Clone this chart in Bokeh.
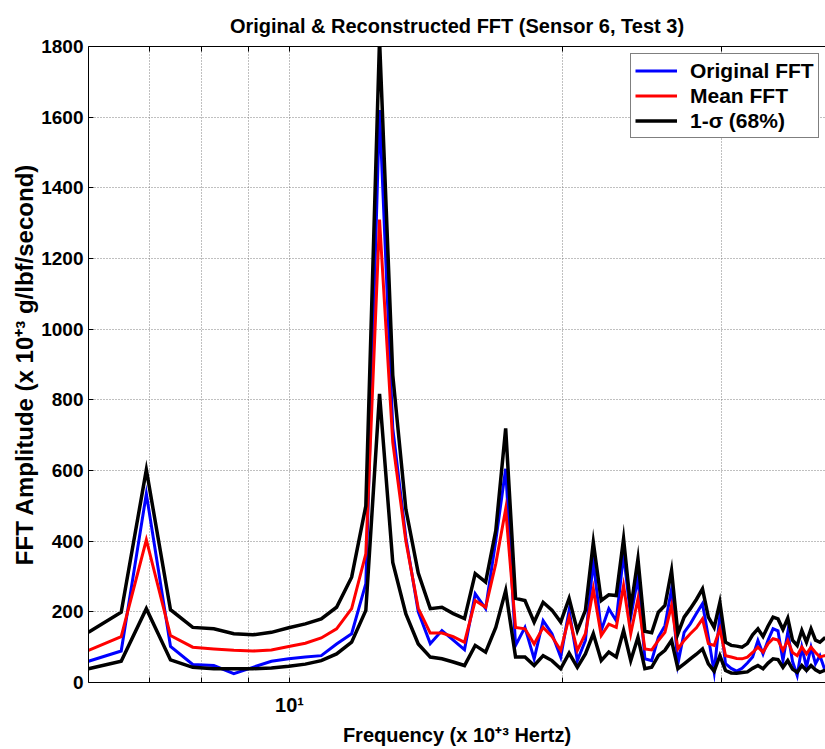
import math
from bokeh.plotting import figure
from bokeh.models import Range1d, FixedTicker, LogAxis, Legend, LegendItem
from bokeh.embed import file_html
from bokeh.resources import INLINE

# ---------------- data ----------------
freq = [6.00, 6.52, 6.95, 7.39, 7.82, 8.25, 8.68, 9.11, 9.55, 9.98,
        10.41, 10.84, 11.27, 11.71, 12.14, 12.57, 13.00, 13.44, 13.87, 14.30,
        14.73, 15.16, 15.60, 16.03, 16.46, 16.89, 17.32, 17.76, 18.19, 18.62,
        19.05, 19.48, 19.92, 20.35, 20.78, 21.21, 21.64, 22.08, 22.51, 22.94,
        23.37, 23.80, 24.24, 24.67, 25.10, 25.53, 25.96, 26.40, 26.83, 27.26,
        27.69, 28.12, 28.56, 28.99, 29.42, 29.85, 30.28, 30.72, 31.15, 31.58,
        32.01, 32.44, 32.88, 33.31, 33.74, 34.17, 34.60, 35.04, 35.47, 35.90,
        36.33, 36.76, 37.20, 37.63, 38.06, 38.49, 38.92, 39.36]

original_fft = [60, 89, 534, 102, 51, 48, 25, 43, 60, 67,
                72, 76, 109, 138, 280, 1620, 720, 410, 200, 110,
                147, 120, 93, 251, 209, 402, 605, 105, 156, 67,
                175, 138, 72, 204, 62, 119, 345, 147, 209, 175,
                364, 185, 298, 67, 62, 128, 161, 265, 53, 142,
                166, 195, 223, 128, 29, 190, 53, 40, 32, 40,
                55, 72, 119, 81, 120, 152, 146, 62, 142, 60,
                20, 100, 43, 100, 53, 76, 40, 50]

mean_fft = [91, 130, 404, 133, 100, 95, 91, 89, 92, 102,
            111, 126, 152, 209, 364, 1310, 680, 400, 210, 140,
            140, 130, 114, 232, 213, 336, 491, 156, 152, 109,
            156, 130, 91, 185, 91, 138, 265, 133, 165, 156,
            274, 138, 237, 95, 92, 119, 142, 218, 95, 119,
            138, 155, 180, 110, 105, 152, 76, 72, 68, 67,
            72, 85, 100, 86, 110, 124, 120, 91, 119, 85,
            76, 100, 81, 100, 85, 72, 76, 76]

sigma_upper = [142, 199, 602, 206, 156, 152, 138, 135, 142, 155,
               166, 180, 213, 298, 500, 1820, 870, 490, 310, 209,
               213, 195, 181, 308, 284, 430, 719, 238, 232, 171,
               227, 205, 171, 238, 147, 204, 397, 232, 248, 246,
               407, 209, 350, 145, 141, 199, 218, 317, 138, 185,
               209, 235, 265, 185, 156, 227, 114, 105, 103, 100,
               110, 135, 152, 130, 160, 185, 180, 150, 182, 120,
               105, 147, 114, 152, 120, 114, 125, 125]

sigma_lower = [39, 60, 209, 64, 43, 39, 39, 39, 41, 46,
               52, 62, 81, 114, 204, 817, 340, 194, 109, 72,
               67, 58, 48, 105, 86, 156, 260, 72, 72, 48,
               76, 62, 39, 83, 43, 81, 138, 62, 86, 72,
               147, 62, 128, 39, 43, 76, 91, 119, 39, 53,
               67, 80, 95, 53, 32, 76, 34, 27, 26, 28,
               30, 40, 48, 39, 55, 67, 65, 43, 62, 38,
               29, 48, 34, 48, 36, 29, 34, 34]

x_grid_ticks = [7, 8, 9, 10, 20, 30]
x_tick_labels = {7: "", 8: "", 9: "", 10: "10\u00b9", 20: "", 30: ""}
y_ticks = [0, 200, 400, 600, 800, 1000, 1200, 1400, 1600, 1800]
series_labels = ["Original FFT", "Mean FFT", "1-\u03c3 (68%)"]
title_text = "Original & Reconstructed FFT (Sensor 6, Test 3)"
x_label = "Frequency (x 10\u207a\u00b3 Hertz)"
y_label = "FFT Amplitude (x 10\u207a\u00b3 g/lbf/second)"

# ---------------- layout ----------------
W, H = 825, 749
FL, FR, FT, FB = 88, 825, 46, 682
X0, X1 = 6.0, 39.04
Y0, Y1 = 0, 1800
FONT = "Liberation Sans"

p = figure(width=W, height=H, x_axis_type="log",
           x_range=Range1d(X0, X1), y_range=Range1d(Y0, Y1),
           output_backend="svg", toolbar_location=None,
           min_border_left=FL, min_border_right=W - FR,
           min_border_top=FT, min_border_bottom=H - FB)
p.outline_line_color = None
p.background_fill_color = "white"
p.border_fill_color = "white"

# title
p.title.text = title_text
p.title.align = "center"
p.title.text_font = FONT
p.title.text_font_style = "bold"
p.title.text_font_size = "20px"
p.title.text_color = "black"
p.title.standoff = 20

r_orig = p.line(freq, original_fft, line_color="#0000FF", line_width=3, line_join="miter")
r_mean = p.line(freq, mean_fft, line_color="#FF0000", line_width=3, line_join="miter")
r_up = p.line(freq, sigma_upper, line_color="black", line_width=3.5, line_join="miter")
r_lo = p.line(freq, sigma_lower, line_color="black", line_width=3.5, line_join="miter")

# x axis (bottom)
xa = p.xaxis[0]
xa.ticker = FixedTicker(ticks=x_grid_ticks)
xa.major_label_overrides = x_tick_labels
xa.major_label_text_font = FONT
xa.major_label_text_font_style = "bold"
xa.major_label_text_font_size = "20px"
xa.major_label_text_color = "black"
xa.major_label_standoff = 11
xa.major_tick_in = 5
xa.major_tick_out = 0
xa.minor_tick_line_color = None
xa.axis_line_color = "black"
xa.major_tick_line_color = "black"
xa.axis_label = x_label
xa.axis_label_text_font = FONT
xa.axis_label_text_font_style = "bold"
xa.axis_label_text_font_size = "20px"
xa.axis_label_text_color = "black"
xa.axis_label_standoff = 5

# top border line with inward ticks
top = LogAxis(ticker=FixedTicker(ticks=x_grid_ticks),
              major_label_overrides={t: "" for t in x_grid_ticks},
              major_tick_in=5, major_tick_out=0, minor_tick_line_color=None,
              major_label_standoff=0,
              axis_line_color="black", major_tick_line_color="black")
p.add_layout(top, "above")

# y axis
ya = p.yaxis[0]
ya.ticker = FixedTicker(ticks=y_ticks)
ya.major_label_text_font = FONT
ya.major_label_text_font_style = "bold"
ya.major_label_text_font_size = "19px"
ya.major_label_text_color = "black"
ya.major_label_standoff = 5
ya.major_tick_in = 5
ya.major_tick_out = 0
ya.minor_tick_line_color = None
ya.axis_line_color = "black"
ya.major_tick_line_color = "black"
ya.axis_label = y_label
ya.axis_label_text_font = FONT
ya.axis_label_text_font_style = "bold"
ya.axis_label_text_font_size = "24px"
ya.axis_label_text_color = "black"
ya.axis_label_standoff = 0

# grids
p.xgrid[0].ticker = FixedTicker(ticks=x_grid_ticks)
p.ygrid[0].ticker = FixedTicker(ticks=y_ticks)
for g in (p.xgrid[0], p.ygrid[0]):
    g.grid_line_color = "#808080"
    g.grid_line_dash = "1 2"
    g.grid_line_width = 1

# legend
legend = Legend(items=[LegendItem(label=series_labels[0], renderers=[r_orig]),
                       LegendItem(label=series_labels[1], renderers=[r_mean]),
                       LegendItem(label=series_labels[2], renderers=[r_up])],
                location=(542, 544), margin=0, padding=4, spacing=0,
                glyph_width=42, glyph_height=25, label_standoff=13,
                label_text_font=FONT, label_text_font_style="bold",
                label_text_font_size="21px", label_text_color="black",
                border_line_color="black", border_line_width=1,
                background_fill_color="white", background_fill_alpha=1.0)
p.add_layout(legend)

open("out.html", "w").write(file_html(p, INLINE))
